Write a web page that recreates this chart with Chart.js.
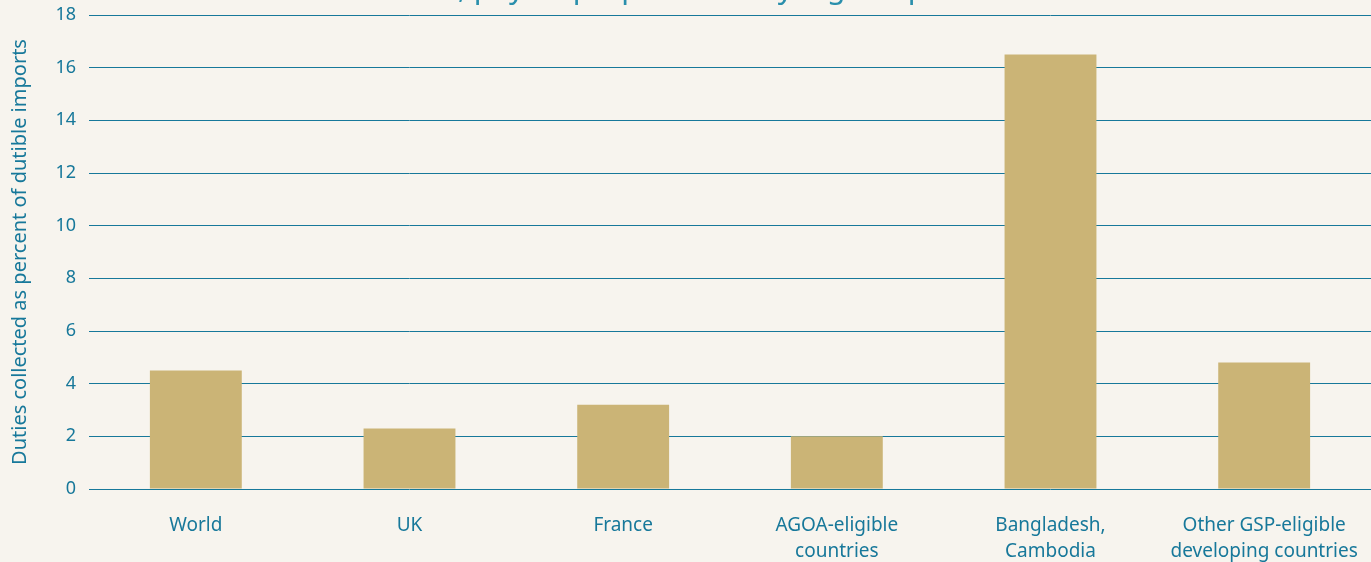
<!DOCTYPE html>
<html>
<head>
<meta charset="utf-8">
<script src="https://cdn.jsdelivr.net/npm/chart.js@4"></script>
<style>
  html, body { margin: 0; padding: 0; background: #f7f4ee; overflow: hidden; }
  #wrap { position: relative; width: 1371px; height: 562px; }
  #title {
    position: absolute; left: -30px; width: 1371px; top: -28px;
    text-align: center; font-family: "Noto Sans", sans-serif;
    font-size: 30px; line-height: 30px; color: #2a8fac; white-space: nowrap;
  }
</style>
</head>
<body>
<div id="wrap">
  <div id="title">and Cambodia, pay disproportionately high import tariffs</div>
  <canvas id="tariffChart" width="1371" height="562"></canvas>
</div>
<script>
// Categories and values (duties collected as % of dutiable imports)
const categories = [
    'World',
    'UK',
    'France',
    ['AGOA-eligible', 'countries'],
    ['Bangladesh,', 'Cambodia'],
    ['Other GSP-eligible', 'developing countries']
];
const dutyRates = [4.5, 2.3, 3.2, 2.0, 16.5, 4.8];
const yTicks = [0, 2, 4, 6, 8, 10, 12, 14, 16, 18];

const teal = '#17789a';
const fontFamily = '"Noto Sans", sans-serif';

const ctx = document.getElementById('tariffChart').getContext('2d');

new Chart(ctx, {
    type: 'bar',
    data: {
        labels: categories,
        datasets: [{
            label: 'Duties collected',
            data: dutyRates,
            backgroundColor: '#cbb476',
            barPercentage: 0.43,
            categoryPercentage: 1.0
        }]
    },
    options: {
        responsive: false,
        animation: false,
        layout: {
            padding: 0
        },
        plugins: {
            legend: { display: false },
            tooltip: { enabled: false }
        },
        scales: {
            x: {
                grid: { display: false },
                border: { display: false },
                ticks: {
                    color: teal,
                    font: { family: fontFamily, size: 19, lineHeight: 1.36 },
                    padding: 16,
                    maxRotation: 0,
                    autoSkip: false
                },
                afterFit: (scale) => {
                    scale.height = 73;
                    // plot runs right up to the canvas edge
                    scale.paddingLeft = 0;
                    scale.paddingRight = 0;
                }
            },
            y: {
                min: 0,
                max: 18,
                afterBuildTicks: (scale) => {
                    scale.ticks = yTicks.map(v => ({ value: v }));
                },
                grid: {
                    color: teal,
                    lineWidth: 1,
                    drawTicks: false
                },
                border: { display: false },
                ticks: {
                    color: teal,
                    font: { family: fontFamily, size: 18 },
                    padding: 13
                },
                title: {
                    display: true,
                    text: 'Duties collected as percent of dutible imports',
                    color: teal,
                    font: { family: fontFamily, size: 20 },
                    padding: { top: 8, bottom: 0 }
                },
                afterFit: (scale) => {
                    scale.width = 89;
                    // keep the top gridline close to the canvas edge
                    scale.paddingTop = 15;
                    scale.paddingBottom = 0;
                }
            }
        }
    }
});
</script>
</body>
</html>
